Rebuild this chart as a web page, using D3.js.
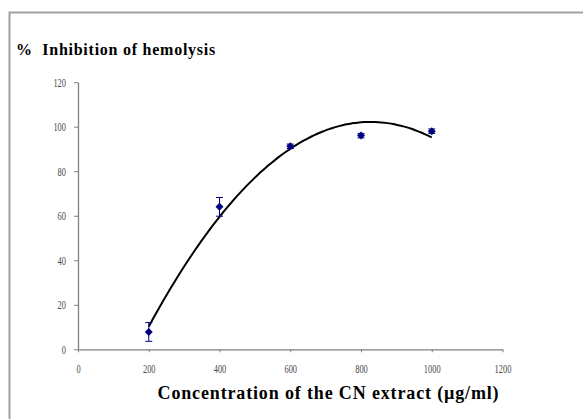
<!DOCTYPE html>
<html>
<head>
<meta charset="utf-8">
<script src="https://cdn.jsdelivr.net/npm/d3@7"></script>
<style>
  body { margin: 0; background: #fff; }
  svg { display: block; }
</style>
</head>
<body>
<script>
var width = 583, height = 419;

// data
var concentrations = [200, 400, 600, 800, 1000];
var inhibition = [7.8, 64, 91.2, 96, 98];
var errors = [4.2, 4.2, 1, 1, 1];
var xTicks = [0, 200, 400, 600, 800, 1000, 1200];
var yTicks = [0, 20, 40, 60, 80, 100, 120];

var svg = d3.select('body')
    .append('svg')
    .attr('width', width)
    .attr('height', height);

// outer frame, runs off the right and bottom edges
svg.append('rect')
    .attr('x', 9.5)
    .attr('y', 12.5)
    .attr('width', 700)
    .attr('height', 600)
    .attr('fill', 'none')
    .style('stroke', '#a0a0a0')
    .style('stroke-width', 2);

var x = d3.scaleLinear().domain([0, 1200]).range([78, 502.5]);
var y = d3.scaleLinear().domain([0, 120]).range([349.3, 82.2]);

var squeeze = 0.7; // tick labels in the picture are narrow

// axes
var xAxis = svg.append('g')
    .attr('transform', 'translate(0,' + y(0) + ')')
    .call(d3.axisBottom(x).tickValues(xTicks).tickFormat(d3.format('d'))
      .tickSize(3).tickPadding(12).tickSizeOuter(0));
var yAxis = svg.append('g')
    .attr('transform', 'translate(' + x(0) + ',0)')
    .call(d3.axisLeft(y).tickValues(yTicks).tickSize(4).tickPadding(9).tickSizeOuter(0));

[xAxis, yAxis].forEach(function(g) {
  g.select('.domain').style('stroke', '#808080').style('stroke-width', 1.3);
  g.selectAll('.tick line').style('stroke', '#808080');
  g.selectAll('.tick text')
      .style('font-family', 'Liberation Serif')
      .style('font-size', '12px')
      .style('fill', '#4a4a4a');
});
yAxis.selectAll('.tick text')
    .attr('x', -12 / squeeze)
    .attr('transform', 'scale(' + squeeze + ',1)');
xAxis.selectAll('.tick text')
    .attr('transform', 'scale(' + squeeze + ',1)');

// second order polynomial trendline (least squares, like excel)
function polyFit(xs, ys) {
  var n = xs.length, s = [0, 0, 0, 0, 0], t = [0, 0, 0];
  for (var i = 0; i < n; i++) {
    for (var k = 0; k < 5; k++) s[k] += Math.pow(xs[i], k);
    for (var k = 0; k < 3; k++) t[k] += ys[i] * Math.pow(xs[i], k);
  }
  var m = [[s[0], s[1], s[2], t[0]], [s[1], s[2], s[3], t[1]], [s[2], s[3], s[4], t[2]]];
  for (var c = 0; c < 3; c++) {
    for (var r = c + 1; r < 3; r++) {
      var f = m[r][c] / m[c][c];
      for (var j = c; j < 4; j++) m[r][j] -= f * m[c][j];
    }
  }
  var coef = [0, 0, 0];
  for (var r = 2; r >= 0; r--) {
    var v = m[r][3];
    for (var j = r + 1; j < 3; j++) v -= m[r][j] * coef[j];
    coef[r] = v / m[r][r];
  }
  return function(v) { return coef[0] + coef[1] * v + coef[2] * v * v; };
}

var fit = polyFit(concentrations, inhibition);
var curvePts = d3.range(200, 1000.1, 10);
var line = d3.line()
    .x(function(d) { return x(d); })
    .y(function(d) { return y(fit(d)); })
    .curve(d3.curveBasis);

svg.append('path')
    .attr('d', line(curvePts))
    .attr('fill', 'none')
    .attr('stroke', '#000')
    .attr('stroke-width', 2);

// error bars
var pts = concentrations.map(function(c, i) { return {x: c, y: inhibition[i], e: errors[i]}; });
var eb = svg.append('g').selectAll('g').data(pts).enter().append('g');
eb.append('line')
    .attr('x1', function(d) { return x(d.x); })
    .attr('x2', function(d) { return x(d.x); })
    .attr('y1', function(d) { return y(d.y - d.e); })
    .attr('y2', function(d) { return y(d.y + d.e); })
    .style('stroke', '#000080');
[-1, 1].forEach(function(sgn) {
  eb.append('line')
      .attr('x1', function(d) { return x(d.x) - 3.5; })
      .attr('x2', function(d) { return x(d.x) + 3.5; })
      .attr('y1', function(d) { return y(d.y + sgn * d.e); })
      .attr('y2', function(d) { return y(d.y + sgn * d.e); })
      .style('stroke', '#000080');
});

// diamond markers
svg.append('g').selectAll('path').data(pts).enter().append('path')
    .attr('transform', function(d) { return 'translate(' + x(d.x) + ',' + y(d.y) + ')'; })
    .attr('d', 'M0,-4L4,0L0,4L-4,0Z')
    .attr('fill', '#000080');

// titles
svg.append('text')
    .attr('x', 16)
    .attr('y', 55)
    .style('font-family', 'Liberation Serif')
    .style('font-weight', 'bold')
    .style('font-size', '16px')
    .style('letter-spacing', '0.75px')
    .style('white-space', 'pre')
    .text('%  Inhibition of hemolysis');

svg.append('text')
    .attr('x', 328.5)
    .attr('y', 399)
    .attr('text-anchor', 'middle')
    .style('font-family', 'Liberation Serif')
    .style('font-weight', 'bold')
    .style('font-size', '18px')
    .style('letter-spacing', '0.85px')
    .text('Concentration of the CN extract (\u00b5g/ml)');
</script>
</body>
</html>
